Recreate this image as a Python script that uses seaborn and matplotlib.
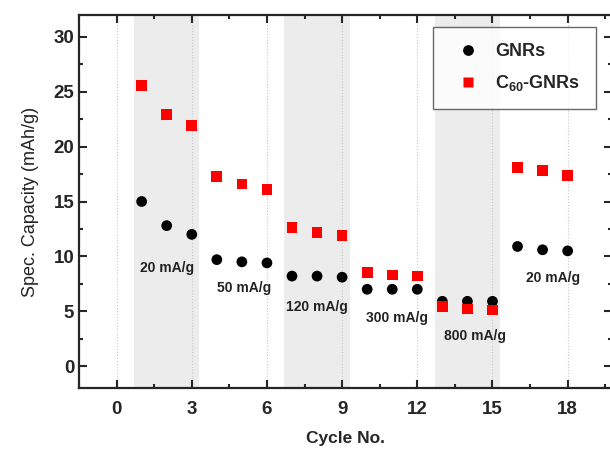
import matplotlib
matplotlib.use("Agg")
import matplotlib.pyplot as plt
import matplotlib.ticker as mtick
import numpy as np
import pandas as pd
import seaborn as sns

# ---- Data ----
cycles = list(range(1, 19))
gnrs = [15.0, 12.8, 12.0, 9.7, 9.5, 9.4, 8.2, 8.2, 8.1, 7.0, 7.0, 7.0, 5.9, 5.9, 5.9, 10.9, 10.6, 10.5]
c60_gnrs = [25.6, 22.9, 21.9, 17.3, 16.6, 16.1, 12.6, 12.2, 11.9, 8.5, 8.3, 8.2, 5.4, 5.2, 5.1, 18.1, 17.8, 17.4]

rate_labels = ["20 mA/g", "50 mA/g", "120 mA/g", "300 mA/g", "800 mA/g", "20 mA/g"]
rate_x = [2.0, 5.1, 8.0, 11.2, 14.3, 17.4]
rate_y = [8.9, 7.1, 5.4, 4.4, 2.7, 8.0]
bands = [(0.7, 3.3), (6.7, 9.3), (12.7, 15.3)]

df = pd.DataFrame({
    "cycle": cycles * 2,
    "cap": gnrs + c60_gnrs,
    "series": ["GNRs"] * len(cycles) + [r"C$_{\mathbf{60}}$-GNRs"] * len(cycles),
})

sns.set_style("ticks")
plt.rcParams["font.family"] = ["Liberation Sans", "DejaVu Sans"]
plt.rcParams["mathtext.fontset"] = "custom"
plt.rcParams["mathtext.rm"] = "Liberation Sans:bold"
plt.rcParams["mathtext.bf"] = "Liberation Sans:bold"

fig = plt.figure(figsize=(6.10, 4.49), dpi=100)
ax = fig.add_axes([79 / 610, 61 / 449, 532.5 / 610, 373 / 449])

# shaded rate blocks + dotted guides
for a, b in bands:
    ax.axvspan(a, b, color="#ececec", zorder=0, lw=0)

for xv in range(0, 19, 3):
    ax.axvline(xv, color="#c8c8c8", ls=":", lw=0.8, zorder=0.5)

sns.scatterplot(
    data=df, x="cycle", y="cap", hue="series", style="series",
    palette={"GNRs": "black", r"C$_{\mathbf{60}}$-GNRs": "#ff0000"},
    markers={"GNRs": "o", r"C$_{\mathbf{60}}$-GNRs": "s"},
    s=60, edgecolor="none", ax=ax, zorder=3,
)

for lab, xv, yv in zip(rate_labels, rate_x, rate_y):
    ax.text(xv, yv, lab, ha="center", va="center", fontsize=10, fontweight="bold", color="#222222")

ax.set_xlim(-1.5, 19.75)
ax.set_ylim(-2, 32)
ax.set_xticks(range(0, 19, 3))
ax.set_yticks(range(0, 31, 5))
ax.xaxis.set_minor_locator(mtick.MultipleLocator(1.5))
ax.yaxis.set_minor_locator(mtick.MultipleLocator(2.5))
ax.tick_params(which="both", direction="in", top=True, right=True, width=1.5)
ax.tick_params(which="major", length=6, labelsize=13.5)
ax.tick_params(axis="x", which="major", pad=9)
ax.tick_params(which="minor", length=3)
for t in ax.get_xticklabels() + ax.get_yticklabels():
    t.set_fontweight("bold")
for sp in ax.spines.values():
    sp.set_linewidth(1.6)

ax.set_xlabel("Cycle No.", fontsize=12.5, fontweight="bold", labelpad=10)
ax.set_ylabel("Spec. Capacity (mAh/g)", fontsize=13, labelpad=10, color="#222222")

leg = ax.legend(loc="upper right", bbox_to_anchor=(0.971, 0.968), frameon=True, fancybox=False,
                edgecolor="#444444", prop={"weight": "bold", "size": 13}, handletextpad=0.5,
                borderpad=0.9, labelspacing=0.7, markerscale=1.0, borderaxespad=0)
leg.get_frame().set_linewidth(1.0)
leg.set_title(None)

fig.savefig("out.png", dpi=100)
